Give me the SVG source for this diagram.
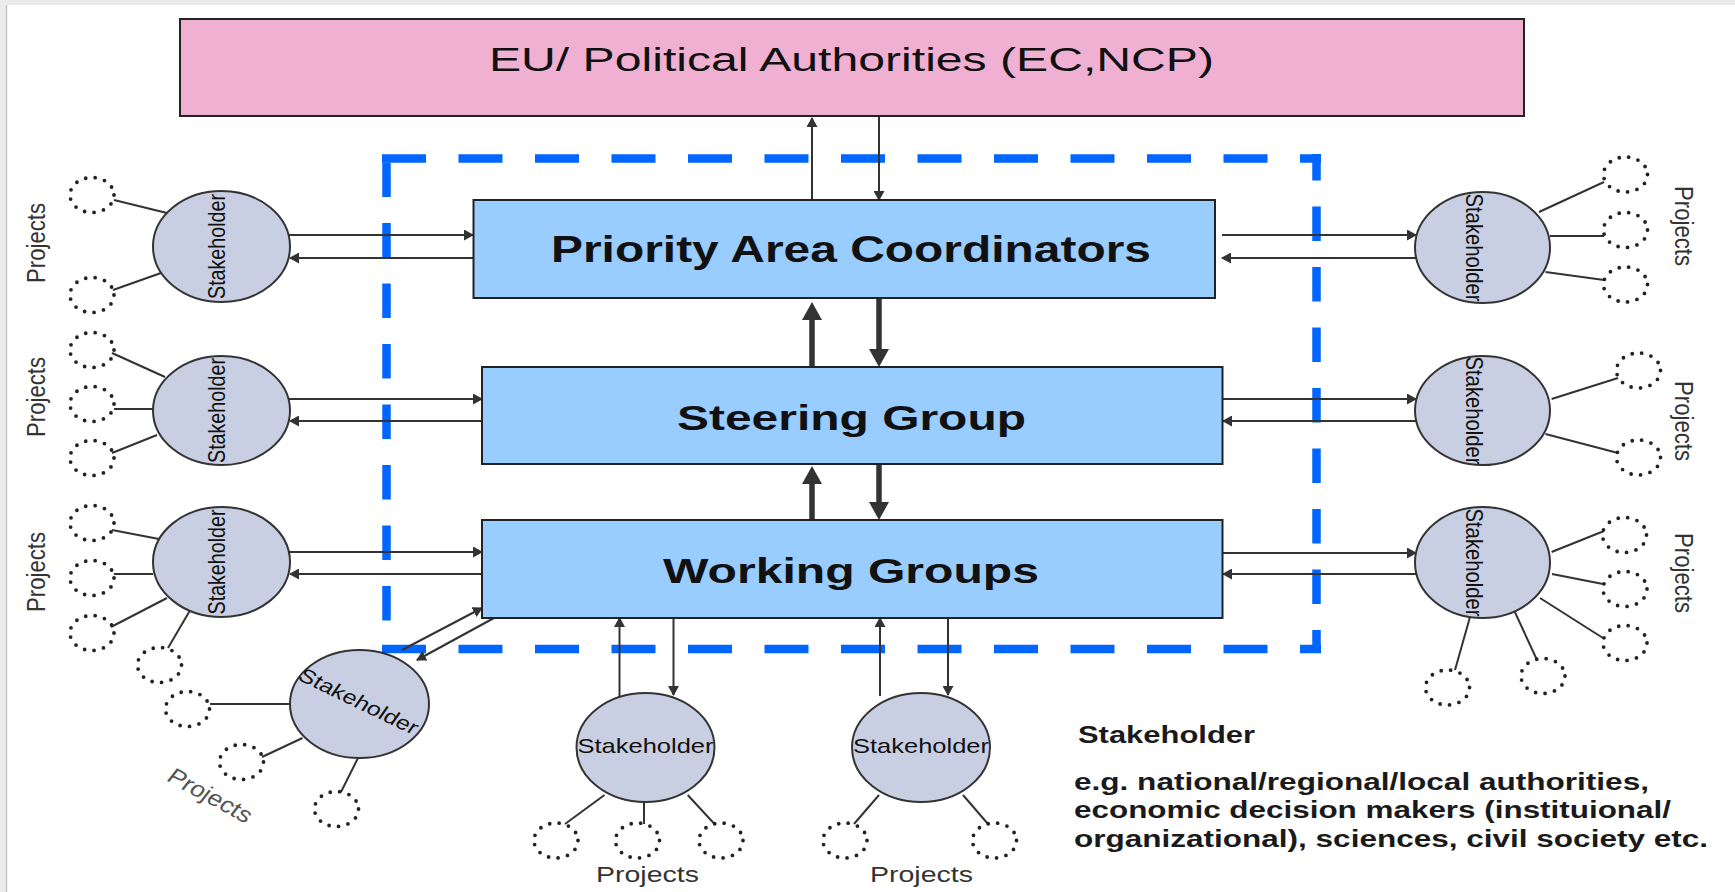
<svg xmlns="http://www.w3.org/2000/svg" width="1735" height="892" viewBox="0 0 1735 892">
<style>
.bg{fill:#ffffff}
.strip{fill:#ebebeb}
.pink{fill:#f0b0d2;stroke:#222;stroke-width:2}
.box{fill:#99ccff;stroke:#222;stroke-width:2}
.stk{fill:#c8cfe3;stroke:#333;stroke-width:2}
.proj{fill:none;stroke:#222;stroke-width:3.8;stroke-dasharray:0 9.6;stroke-linecap:round}
.ln{stroke:#333;stroke-width:2;fill:none}
.arr{stroke:#333;stroke-width:2;fill:none;marker-end:url(#ah)}
.thick{stroke:#333;stroke-width:5.5;fill:none;marker-end:url(#ahb)}
.dash{stroke:#0066ff;stroke-width:8.5;fill:none}
.dh{stroke-dasharray:44 32.5}
.dv{stroke-dasharray:34.5 26}
text{font-family:"Liberation Sans",Arial,sans-serif;fill:#111}
.t1{font-size:33.5px}
.tb{font-weight:bold}
.st{font-size:19.5px}
.pj{font-size:22px;fill:#333}
.lg{font-size:23px;font-weight:bold;fill:#1a1a1a}
</style>
<defs>
<marker id="ah" viewBox="0 0 10 11" markerWidth="10" markerHeight="11" refX="9" refY="5.5" orient="auto" markerUnits="userSpaceOnUse"><path d="M0,0 L10,5.5 L0,11 z" fill="#333"/></marker>
<marker id="ahb" viewBox="0 0 18 20" markerWidth="18" markerHeight="20" refX="6" refY="10" orient="auto" markerUnits="userSpaceOnUse"><path d="M0,0 L18,10 L0,20 z" fill="#333"/></marker>
</defs>
<rect class="bg" x="0" y="0" width="1735" height="892"/>
<rect class="strip" x="0" y="0" width="1735" height="5"/>
<rect class="strip" x="0" y="0" width="7" height="892"/>
<line x1="6.5" y1="5" x2="6.5" y2="892" stroke="#c4c4c4" stroke-width="1.5"/>

<g id="boundary">
<line class="dash dh" x1="382" y1="158.5" x2="1321" y2="158.5"/>
<line class="dash dh" x1="382" y1="649" x2="1321" y2="649"/>
<line class="dash dv" x1="386.5" y1="162.5" x2="386.5" y2="653"/>
<line class="dash dv" x1="1316.5" y1="154" x2="1316.5" y2="653" stroke-dashoffset="8"/>
</g>

<g id="connectors">
<!-- EU <-> PAC -->
<line class="arr" x1="812" y1="200" x2="812" y2="118"/>
<line class="arr" x1="879" y1="117" x2="879" y2="200"/>
<!-- PAC <-> SG -->
<line class="thick" x1="812" y1="367" x2="812" y2="314"/>
<line class="thick" x1="879" y1="298" x2="879" y2="355"/>
<!-- SG <-> WG -->
<line class="thick" x1="812" y1="520" x2="812" y2="478"/>
<line class="thick" x1="879" y1="464" x2="879" y2="508"/>
<!-- left stakeholders -->
<line class="arr" x1="289" y1="235" x2="473" y2="235"/>
<line class="arr" x1="473" y1="258" x2="290" y2="258"/>
<line class="arr" x1="289" y1="399" x2="482" y2="399"/>
<line class="arr" x1="482" y1="421" x2="290" y2="421"/>
<line class="arr" x1="289" y1="552" x2="482" y2="552"/>
<line class="arr" x1="482" y1="574" x2="290" y2="574"/>
<!-- bottom-left rotated stakeholder -->
<line class="arr" x1="402" y1="650" x2="482" y2="608"/>
<line class="arr" x1="494" y1="618" x2="417" y2="660"/>
<!-- bottom stakeholders -->
<line class="arr" x1="619.5" y1="696" x2="619.5" y2="618"/>
<line class="arr" x1="673.5" y1="618" x2="673.5" y2="695"/>
<line class="arr" x1="880" y1="696" x2="880" y2="618"/>
<line class="arr" x1="948" y1="618" x2="948" y2="695"/>
<!-- right stakeholders -->
<line class="arr" x1="1222" y1="235" x2="1416" y2="235"/>
<line class="arr" x1="1416" y1="258" x2="1222" y2="258"/>
<line class="arr" x1="1223" y1="399" x2="1416" y2="399"/>
<line class="arr" x1="1416" y1="421" x2="1223" y2="421"/>
<line class="arr" x1="1223" y1="553" x2="1416" y2="553"/>
<line class="arr" x1="1416" y1="574" x2="1223" y2="574"/>
<!-- project links -->
<line class="ln" x1="114" y1="200" x2="167" y2="213"/>
<line class="ln" x1="113" y1="290" x2="161" y2="273"/>
<line class="ln" x1="112" y1="353" x2="165" y2="377"/>
<line class="ln" x1="114" y1="409" x2="153" y2="409"/>
<line class="ln" x1="112" y1="453" x2="157" y2="435"/>
<line class="ln" x1="112" y1="530" x2="159" y2="539"/>
<line class="ln" x1="114" y1="574" x2="153" y2="574"/>
<line class="ln" x1="111" y1="627" x2="167" y2="598"/>
<line class="ln" x1="168" y1="648" x2="192" y2="607"/>
<line class="ln" x1="210" y1="704" x2="290" y2="704"/>
<line class="ln" x1="262" y1="757" x2="302.5" y2="738"/>
<line class="ln" x1="341" y1="792" x2="358" y2="758"/>
<line class="ln" x1="604.5" y1="795" x2="565" y2="824"/>
<line class="ln" x1="644" y1="802" x2="644" y2="824"/>
<line class="ln" x1="687.7" y1="795" x2="714.5" y2="824"/>
<line class="ln" x1="879" y1="795" x2="854" y2="824"/>
<line class="ln" x1="963" y1="795" x2="988" y2="824"/>
<line class="ln" x1="1539" y1="212" x2="1604" y2="182"/>
<line class="ln" x1="1550" y1="236" x2="1604" y2="236"/>
<line class="ln" x1="1545.5" y1="272" x2="1604" y2="280"/>
<line class="ln" x1="1551.6" y1="399" x2="1618" y2="378"/>
<line class="ln" x1="1545.5" y1="434" x2="1618" y2="453"/>
<line class="ln" x1="1551.6" y1="552" x2="1604" y2="531"/>
<line class="ln" x1="1552" y1="574" x2="1603" y2="584"/>
<line class="ln" x1="1540" y1="598" x2="1603" y2="638"/>
<line class="ln" x1="1513" y1="608" x2="1537" y2="660"/>
<line class="ln" x1="1470" y1="617" x2="1455" y2="670"/>
</g>

<g id="eu">
<rect class="pink" x="180" y="19" width="1344" height="97"/>
<text class="t1" x="851.5" y="71" text-anchor="middle" textLength="725" lengthAdjust="spacingAndGlyphs">EU/ Political Authorities (EC,NCP)</text>
</g>
<g id="pac">
<rect class="box" x="473.5" y="200" width="741.5" height="98"/>
<text class="tb" x="851" y="262" font-size="37" text-anchor="middle" textLength="600" lengthAdjust="spacingAndGlyphs">Priority Area Coordinators</text>
</g>
<g id="sg">
<rect class="box" x="482" y="367" width="740.5" height="97"/>
<text class="tb" x="851.5" y="430" font-size="35" text-anchor="middle" textLength="349" lengthAdjust="spacingAndGlyphs">Steering Group</text>
</g>
<g id="wg">
<rect class="box" x="482" y="520" width="740.5" height="98"/>
<text class="tb" x="851" y="583" font-size="35" text-anchor="middle" textLength="376" lengthAdjust="spacingAndGlyphs">Working Groups</text>
</g>

<g id="stakeholder-l1">
<ellipse class="stk" cx="221.5" cy="246.5" rx="68.5" ry="55.5"/>
<text class="st" transform="translate(225,246.5) scale(1.2,1) rotate(-90)" text-anchor="middle" textLength="105" lengthAdjust="spacingAndGlyphs">Stakeholder</text>
<ellipse class="proj" cx="92" cy="195" rx="22" ry="17.5"/>
<ellipse class="proj" cx="92" cy="295" rx="22" ry="17.5"/>
<text class="pj" transform="translate(45,243) scale(1.2,1) rotate(-90)" text-anchor="middle" textLength="80" lengthAdjust="spacingAndGlyphs">Projects</text>
</g>
<g id="stakeholder-l2">
<ellipse class="stk" cx="221.5" cy="410.5" rx="68.5" ry="54.5"/>
<text class="st" transform="translate(225,410.5) scale(1.2,1) rotate(-90)" text-anchor="middle" textLength="105" lengthAdjust="spacingAndGlyphs">Stakeholder</text>
<ellipse class="proj" cx="92" cy="350" rx="22" ry="17.5"/>
<ellipse class="proj" cx="92" cy="404" rx="22" ry="17.5"/>
<ellipse class="proj" cx="92" cy="458" rx="22" ry="17.5"/>
<text class="pj" transform="translate(45,397) scale(1.2,1) rotate(-90)" text-anchor="middle" textLength="80" lengthAdjust="spacingAndGlyphs">Projects</text>
</g>
<g id="stakeholder-l3">
<ellipse class="stk" cx="221.5" cy="562" rx="68.5" ry="55"/>
<text class="st" transform="translate(225,562) scale(1.2,1) rotate(-90)" text-anchor="middle" textLength="105" lengthAdjust="spacingAndGlyphs">Stakeholder</text>
<ellipse class="proj" cx="92" cy="523" rx="22" ry="17.5"/>
<ellipse class="proj" cx="92" cy="578" rx="22" ry="17.5"/>
<ellipse class="proj" cx="92" cy="633" rx="22" ry="17.5"/>
<ellipse class="proj" cx="159.5" cy="665" rx="22" ry="17.5"/>
<text class="pj" transform="translate(45,572) scale(1.2,1) rotate(-90)" text-anchor="middle" textLength="80" lengthAdjust="spacingAndGlyphs">Projects</text>
</g>
<g id="stakeholder-bl">
<ellipse class="stk" cx="359.5" cy="704" rx="69.5" ry="54"/>
<text class="st" transform="translate(359,701) scale(1.2,1) rotate(30)" x="0" y="7" font-size="20" text-anchor="middle" textLength="112" lengthAdjust="spacingAndGlyphs">Stakeholder</text>
<ellipse class="proj" cx="187.5" cy="709" rx="22" ry="17.5"/>
<ellipse class="proj" cx="241.5" cy="762" rx="22" ry="17.5"/>
<ellipse class="proj" cx="336.5" cy="809" rx="22" ry="17.5"/>
<text class="pj" transform="translate(210,796) scale(1.2,1) rotate(33)" x="0" y="7" text-anchor="middle" textLength="80" lengthAdjust="spacingAndGlyphs" style="fill:#555">Projects</text>
</g>
<g id="stakeholder-b1">
<ellipse class="stk" cx="645.5" cy="747.5" rx="69" ry="54.5"/>
<text x="645.5" y="753" font-size="21" text-anchor="middle" textLength="136" lengthAdjust="spacingAndGlyphs">Stakeholder</text>
<ellipse class="proj" cx="556" cy="840.5" rx="22" ry="17.5"/>
<ellipse class="proj" cx="637.5" cy="840.5" rx="22" ry="17.5"/>
<ellipse class="proj" cx="721" cy="840.5" rx="22" ry="17.5"/>
<text class="pj" x="647.5" y="882" font-size="21" text-anchor="middle" textLength="103" lengthAdjust="spacingAndGlyphs">Projects</text>
</g>
<g id="stakeholder-b2">
<ellipse class="stk" cx="921" cy="747.5" rx="69" ry="54.5"/>
<text x="921" y="753" font-size="21" text-anchor="middle" textLength="136" lengthAdjust="spacingAndGlyphs">Stakeholder</text>
<ellipse class="proj" cx="845" cy="840.5" rx="22" ry="17.5"/>
<ellipse class="proj" cx="994.5" cy="840.5" rx="22" ry="17.5"/>
<text class="pj" x="921.5" y="882" font-size="21" text-anchor="middle" textLength="103" lengthAdjust="spacingAndGlyphs">Projects</text>
</g>
<g id="stakeholder-r1">
<ellipse class="stk" cx="1482.5" cy="247.5" rx="67.5" ry="55.5"/>
<text class="st" transform="translate(1466,247.5) scale(1.2,1) rotate(90)" text-anchor="middle" textLength="108" lengthAdjust="spacingAndGlyphs">Stakeholder</text>
<ellipse class="proj" cx="1625.5" cy="174.5" rx="22" ry="17.5"/>
<ellipse class="proj" cx="1625.5" cy="230" rx="22" ry="17.5"/>
<ellipse class="proj" cx="1625.5" cy="284.5" rx="22" ry="17.5"/>
<text class="pj" transform="translate(1675,226) scale(1.2,1) rotate(90)" text-anchor="middle" textLength="80" lengthAdjust="spacingAndGlyphs">Projects</text>
</g>
<g id="stakeholder-r2">
<ellipse class="stk" cx="1482.5" cy="410.5" rx="67.5" ry="54.5"/>
<text class="st" transform="translate(1466,410.5) scale(1.2,1) rotate(90)" text-anchor="middle" textLength="108" lengthAdjust="spacingAndGlyphs">Stakeholder</text>
<ellipse class="proj" cx="1638.5" cy="370.5" rx="22" ry="17.5"/>
<ellipse class="proj" cx="1638.5" cy="457.5" rx="22" ry="17.5"/>
<text class="pj" transform="translate(1675,421) scale(1.2,1) rotate(90)" text-anchor="middle" textLength="80" lengthAdjust="spacingAndGlyphs">Projects</text>
</g>
<g id="stakeholder-r3">
<ellipse class="stk" cx="1482.5" cy="562.5" rx="67.5" ry="55.5"/>
<text class="st" transform="translate(1466,562.5) scale(1.2,1) rotate(90)" text-anchor="middle" textLength="108" lengthAdjust="spacingAndGlyphs">Stakeholder</text>
<ellipse class="proj" cx="1624.5" cy="535" rx="22" ry="17.5"/>
<ellipse class="proj" cx="1625" cy="589" rx="22" ry="17.5"/>
<ellipse class="proj" cx="1625" cy="643" rx="22" ry="17.5"/>
<ellipse class="proj" cx="1543" cy="676" rx="22" ry="17.5"/>
<ellipse class="proj" cx="1447.5" cy="687.5" rx="22" ry="17.5"/>
<text class="pj" transform="translate(1675,573) scale(1.2,1) rotate(90)" text-anchor="middle" textLength="80" lengthAdjust="spacingAndGlyphs">Projects</text>
</g>

<g id="legend">
<text class="lg" x="1078" y="743" textLength="177" lengthAdjust="spacingAndGlyphs">Stakeholder</text>
<text class="lg" x="1074" y="790" textLength="575" lengthAdjust="spacingAndGlyphs">e.g. national/regional/local authorities,</text>
<text class="lg" x="1074" y="818" textLength="597" lengthAdjust="spacingAndGlyphs">economic decision makers (instituional/</text>
<text class="lg" x="1074" y="846.5" textLength="634" lengthAdjust="spacingAndGlyphs">organizational), sciences, civil society etc.</text>
</g>
</svg>
